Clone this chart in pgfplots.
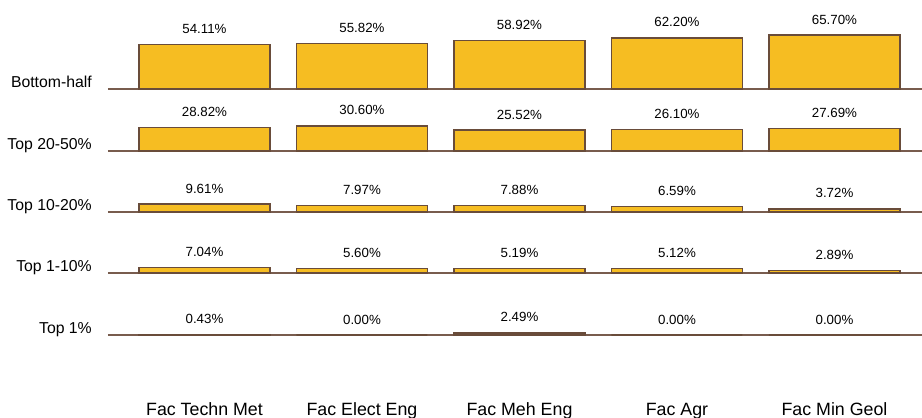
\documentclass[border=0pt]{standalone}
\usepackage{fontspec}
\setmainfont{Liberation Sans}
\usepackage{pgfplots}
\pgfplotsset{compat=1.18}
\usepackage{pgfplotstable}

\definecolor{barfill}{RGB}{246,189,34}
\definecolor{baredge}{RGB}{105,76,58}
\definecolor{baseln}{RGB}{120,92,78}

% share of each group per faculty (%)
\pgfplotstableread{
x bottom top2050 top1020 top110 top1
0 54.11 28.82 9.61 7.04 0.43
1 55.82 30.60 7.97 5.60 0.00
2 58.92 25.52 7.88 5.19 2.49
3 62.20 26.10 6.59 5.12 0.00
4 65.70 27.69 3.72 2.89 0.00
}\shares

\pgfplotsset{
  rowaxis/.style={
    anchor=south west, at={(0pt,#1)},
    scale only axis, width=814pt, y=0.82pt,
    ymin=0, ymax=70, xmin=-0.6127, xmax=4.5556,
    axis y line=none, axis x line=bottom,
    x axis line style={-, draw=baseln, line width=1.4pt},
    xtick=\empty, xtick style={draw=none},
    ybar, bar width=131pt, clip=false,
    nodes near coords={\pgfmathprintnumber[fixed,fixed zerofill,precision=2,assume math mode=true]{\pgfplotspointmeta}\%},
    nodes near coords style={font=\fontsize{13.3}{14}\selectfont, text=black, anchor=base, yshift=11pt, inner sep=0pt},
  },
  rowbars/.style={fill=barfill, draw=baredge, line width=1.3pt},
}
\newcommand{\rowlabel}[1]{\node[anchor=base east, inner sep=0pt, xshift=-16pt, yshift=2pt, font=\fontsize{15.8}{18}\selectfont] at (rel axis cs:0,0) {#1};}

\begin{document}
\begin{tikzpicture}
\useasboundingbox (-108pt,-329pt) rectangle (814pt,89pt);

\begin{axis}[rowaxis=0pt]
\addplot[rowbars] table[x=x, y=bottom] {\shares};
\rowlabel{Bottom-half}
\end{axis}

\begin{axis}[rowaxis=-62pt]
\addplot[rowbars] table[x=x, y=top2050] {\shares};
\rowlabel{Top 20-50\%}
\end{axis}

\begin{axis}[rowaxis=-123pt]
\addplot[rowbars] table[x=x, y=top1020] {\shares};
\rowlabel{Top 10-20\%}
\end{axis}

\begin{axis}[rowaxis=-184pt]
\addplot[rowbars] table[x=x, y=top110] {\shares};
\rowlabel{Top 1-10\%}
\end{axis}

\begin{axis}[rowaxis=-246pt,
    xtick={0,...,4},
    xticklabels={Fac Techn Met, Fac Elect Eng, Fac Meh Eng, Fac Agr, Fac Min Geol},
    xticklabel style={anchor=base, yshift=-80pt, font=\fontsize{17.8}{20}\selectfont},
    major tick length=0pt]
\addplot[rowbars] table[x=x, y=top1] {\shares};
\rowlabel{Top 1\%}
\end{axis}
\end{tikzpicture}
\end{document}
